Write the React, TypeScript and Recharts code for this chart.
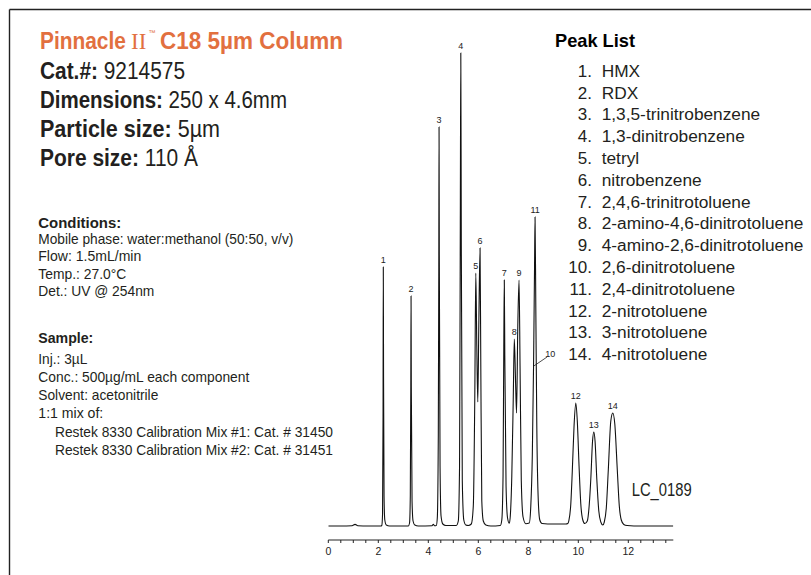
import React from "react";
import {
  LineChart,
  Line,
  XAxis,
  YAxis,
  ReferenceDot,
  ReferenceLine,
} from "recharts";

// detector trace: [time (min), signal]
const trace: [number, number][] = [
  [0, 0], [0.5, 0], [0.95, 0.3], [1.07, 1.6], [1.18, 0.3], [1.6, 0], [2.1, 0],
  [2.14, 0.5], [2.17, 12], [2.19, 110], [2.2, 259], [2.21, 150], [2.23, 30], [2.26, 6], [2.32, 1], [2.45, 0],
  [3.2, 0],
  [3.25, 3], [3.28, 30], [3.3, 140], [3.31, 230], [3.32, 140], [3.35, 25], [3.39, 5], [3.46, 1], [3.6, 0],
  [4.15, 0.3], [4.2, 1.8], [4.25, 0.3], [4.32, 0.5],
  [4.36, 8], [4.4, 90], [4.42, 260], [4.43, 399], [4.44, 270], [4.47, 60], [4.51, 10], [4.58, 2], [4.7, 0.5],
  [5.12, 0.5],
  [5.2, 5], [5.25, 60], [5.28, 300], [5.3, 473], [5.32, 280], [5.36, 45], [5.42, 6], [5.5, 1], [5.6, 0.5],
  [5.72, 2], [5.8, 20], [5.86, 130], [5.9, 253], [5.94, 180], [5.98, 124], [6.02, 200], [6.07, 278],
  [6.1, 160], [6.14, 25], [6.2, 5], [6.3, 1], [6.5, 0], [6.88, 0.5],
  [6.94, 6], [6.99, 50], [7.02, 180], [7.04, 246], [7.06, 170], [7.11, 40], [7.17, 8], [7.24, 2.7],
  [7.28, 10], [7.34, 50], [7.4, 130], [7.44, 187], [7.49, 145], [7.53, 113], [7.58, 200], [7.63, 246],
  [7.67, 160], [7.72, 45], [7.79, 9], [7.9, 2.3],
  [8.04, 3], [8.1, 20], [8.16, 70], [8.21, 160], [8.25, 260], [8.27, 309], [8.3, 220], [8.34, 100],
  [8.4, 25], [8.46, 6], [8.55, 2.5],
  [9.0, 2], [9.5, 2], [9.58, 2.5],
  [9.62, 5], [9.7, 22], [9.76, 55], [9.83, 100], [9.9, 123], [9.96, 105], [10.03, 60], [10.1, 22], [10.18, 6], [10.26, 2.5],
  [10.36, 5], [10.44, 22], [10.5, 47], [10.57, 85], [10.62, 94], [10.67, 85], [10.74, 47], [10.82, 15], [10.9, 4], [10.98, 1],
  [11.04, 4], [11.12, 18], [11.2, 56], [11.3, 105], [11.38, 113], [11.46, 102], [11.56, 56], [11.64, 20], [11.72, 6],
  [11.82, 1.5], [11.95, 0.5], [12.5, 0], [13.8, 0],
];

// peak labels (number, retention time, apex height)
const peakNo = ["1", "2", "3", "4", "5", "6", "7", "8", "9", "11", "12", "13", "14"];
const peakTime = [2.2, 3.31, 4.43, 5.3, 5.9, 6.07, 7.04, 7.44, 7.63, 8.27, 9.9, 10.62, 11.38];
const peakHeight = [259, 230, 399, 473, 253, 278, 246, 187, 246, 309, 123, 94, 113];

// peak 10 sits on the front of 11: label off to the side with a leader
const peak10Leader: [number, number][] = [[8.22, 160], [8.75, 169]];
const peak10Label: [number, number] = [8.88, 172];

const xTicks = [0, 0.5, 1, 1.5, 2, 2.5, 3, 3.5, 4, 4.5, 5, 5.5, 6, 6.5, 7, 7.5, 8, 8.5, 9, 9.5, 10, 10.5, 11, 11.5, 12, 12.5, 13, 13.5];

const peakList = [
  "HMX",
  "RDX",
  "1,3,5-trinitrobenzene",
  "1,3-dinitrobenzene",
  "tetryl",
  "nitrobenzene",
  "2,4,6-trinitrotoluene",
  "2-amino-4,6-dinitrotoluene",
  "4-amino-2,6-dinitrotoluene",
  "2,6-dinitrotoluene",
  "2,4-dinitrotoluene",
  "2-nitrotoluene",
  "3-nitrotoluene",
  "4-nitrotoluene",
];

// [bold label, value, printed width]
const columnSpecs: [string, string, number][] = [
  ["Cat.#:", "9214575", 145],
  ["Dimensions:", "250 x 4.6mm", 247],
  ["Particle size:", "5µm", 180],
  ["Pore size:", "110 Å", 158],
];

const conditions: [string, number][] = [
  ["Mobile phase: water:methanol (50:50, v/v)", 255],
  ["Flow: 1.5mL/min", 103],
  ["Temp.: 27.0°C", 88],
  ["Det.: UV @ 254nm", 116],
];

const sample: [string, number][] = [
  ["Inj.: 3µL", 49],
  ["Conc.: 500µg/mL each component", 211],
  ["Solvent: acetonitrile", 120],
  ["1:1 mix of:", 65],
];

const mixes = [
  "Restek 8330 Calibration Mix #1: Cat. # 31450",
  "Restek 8330 Calibration Mix #2: Cat. # 31451",
];

const ORANGE = "#e2703f";
const INK = "#231f20";
const SANS = "'Liberation Sans', Arial, Helvetica, sans-serif";

const data = trace.map(([t, v]) => ({ t, v }));

// squeezes text into the condensed widths of the printed note
const fit = { lengthAdjust: "spacingAndGlyphs" as const };

function TextPanel() {
  return (
    <svg
      width={811}
      height={575}
      style={{ position: "absolute", left: 0, top: 0 }}
    >
      {/* frame, only top and left edges show */}
      <line x1={9.5} y1={9.5} x2={811} y2={9.5} stroke="#222" strokeWidth={1.4} />
      <line x1={9.5} y1={9.5} x2={9.5} y2={575} stroke="#222" strokeWidth={1.4} />

      {/* condensed by a horizontal squeeze */}
      <text
        transform="translate(40 49) scale(0.87 1)"
        fontFamily={SANS}
        fontWeight={700}
        fontSize={24}
        fill={ORANGE}
      >
        Pinnacle
      </text>
      <text x={131} y={49} fontFamily="'Liberation Serif', serif" fontSize={23} fill={ORANGE}>
        II
      </text>
      <text x={148.5} y={35} fontFamily={SANS} fontSize={7} fill={ORANGE}>
        ™
      </text>
      <text x={160} y={49} fontFamily={SANS} fontWeight={700} fontSize={24} fill={ORANGE} textLength={183} {...fit}>
        C18 5µm Column
      </text>

      {columnSpecs.map(([k, v, w], i) => (
        <text key={k} x={40} y={79 + i * 29} fontFamily={SANS} fontSize={23} fill={INK} textLength={w} {...fit}>
          <tspan fontWeight={700}>{k}</tspan> {v}
        </text>
      ))}

      <text x={38.3} y={227.5} fontFamily={SANS} fontWeight={700} fontSize={15} fill={INK} textLength={83} {...fit}>
        Conditions:
      </text>
      {conditions.map(([s, w], i) => (
        <text key={s} x={38.3} y={243.5 + i * 17.6} fontFamily={SANS} fontSize={15} fill={INK} textLength={w} {...fit}>
          {s}
        </text>
      ))}

      <text x={38.3} y={343} fontFamily={SANS} fontWeight={700} fontSize={15.5} fill={INK} textLength={55} {...fit}>
        Sample:
      </text>
      {sample.map(([s, w], i) => (
        <text key={s} x={38.3} y={364.3 + i * 17.8} fontFamily={SANS} fontSize={15} fill={INK} textLength={w} {...fit}>
          {s}
        </text>
      ))}
      {mixes.map((s, i) => (
        <text key={s} x={55} y={437.3 + i * 17.8} fontFamily={SANS} fontSize={15} fill={INK} textLength={278} {...fit}>
          {s}
        </text>
      ))}

      <text x={555} y={46.7} fontFamily={SANS} fontWeight={700} fontSize={18.5} fill="#000" textLength={80} {...fit}>
        Peak List
      </text>
      {peakList.map((name, i) => (
        <g key={name}>
          <text x={592} y={76.7 + i * 21.8} textAnchor="end" fontFamily={SANS} fontSize={17} fill={INK}>
            {i + 1}.
          </text>
          <text x={601.7} y={76.7 + i * 21.8} fontFamily={SANS} fontSize={17.3} fill={INK}>
            {name}
          </text>
        </g>
      ))}

      <text x={631.7} y={496} fontFamily={SANS} fontSize={17.5} fill={INK} textLength={60} {...fit}>
        LC_0189
      </text>
    </svg>
  );
}

export default function App() {
  return (
    <div style={{ position: "absolute", left: 0, top: 0, width: 811, height: 575, background: "#fff" }}>
      <TextPanel />
      <div style={{ position: "absolute", left: 0, top: 0 }}>
        <LineChart
          width={811}
          height={575}
          data={data}
          margin={{ top: 40, right: 137.7, bottom: 5, left: 328.3 }}
        >
          <XAxis
            dataKey="t"
            type="number"
            domain={[0, 13.8]}
            ticks={xTicks}
            tickFormatter={(v: number) => (v % 2 === 0 ? String(v) : "")}
            allowDataOverflow
            height={30}
            tickSize={3}
            tickMargin={5}
            axisLine={{ stroke: "#222", strokeWidth: 1 }}
            tickLine={{ stroke: "#222", strokeWidth: 1 }}
            tick={{ fontSize: 10.5, fill: "#222", fontFamily: SANS }}
          />
          <YAxis hide type="number" domain={[-14, 486]} allowDataOverflow />
          <Line
            type="monotone"
            dataKey="v"
            stroke="#111"
            strokeWidth={1.1}
            dot={false}
            activeDot={false}
            isAnimationActive={false}
          />
          {peakNo.map((n, i) => (
            <ReferenceDot
              key={n}
              x={peakTime[i]}
              y={peakHeight[i]}
              r={0}
              fill="none"
              stroke="none"
              label={{ value: n, position: "top", offset: 4, fontSize: 9, fill: "#222", fontFamily: SANS }}
            />
          ))}
          <ReferenceLine
            segment={[
              { x: peak10Leader[0][0], y: peak10Leader[0][1] },
              { x: peak10Leader[1][0], y: peak10Leader[1][1] },
            ]}
            stroke="#222"
            strokeWidth={0.8}
          />
          <ReferenceDot
            x={peak10Label[0]}
            y={peak10Label[1]}
            r={0}
            fill="none"
            stroke="none"
            label={{ value: "10", position: "center", fontSize: 9, fill: "#222", fontFamily: SANS }}
          />
        </LineChart>
      </div>
    </div>
  );
}
